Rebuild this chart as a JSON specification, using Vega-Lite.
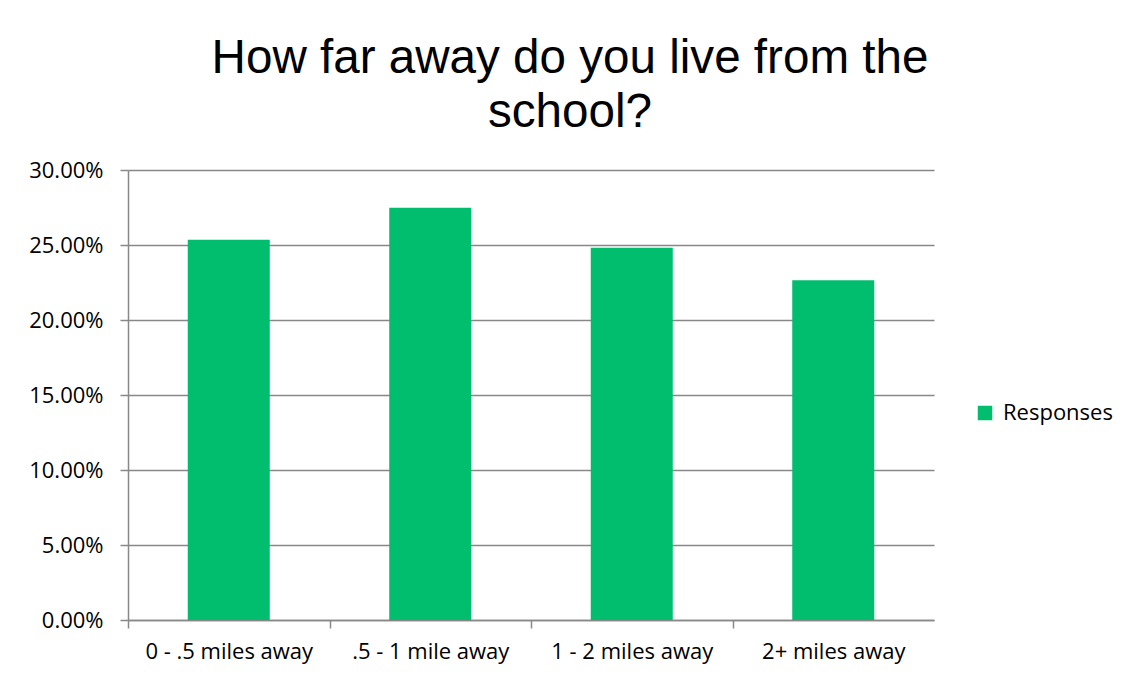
{
  "$schema": "https://vega.github.io/schema/vega-lite/v6.json",
  "width": 806,
  "height": 450,
  "autosize": {"type": "none"},
  "padding": {"left": 128, "top": 170, "right": 193, "bottom": 62},
  "background": "white",
  "title": {
    "text": ["How far away do you live from the", "school?"],
    "font": "Liberation Sans",
    "fontSize": 47.6,
    "fontWeight": "normal",
    "color": "#000000",
    "anchor": "middle",
    "dx": 39,
    "lineHeight": 54,
    "offset": 22
  },
  "data": {
    "values": [
      {"distance": "0 - .5 miles away", "series": "Responses", "pct": 0.2535},
      {"distance": ".5 - 1 mile away", "series": "Responses", "pct": 0.2748},
      {"distance": "1 - 2 miles away", "series": "Responses", "pct": 0.2481},
      {"distance": "2+ miles away", "series": "Responses", "pct": 0.2265}
    ]
  },
  "mark": {"type": "bar", "stroke": null},
  "encoding": {
    "x": {
      "field": "distance",
      "type": "nominal",
      "sort": null,
      "scale": {"paddingInner": 0.593, "paddingOuter": 0.2965},
      "axis": {
        "title": null,
        "labelAngle": 0,
        "labelFont": "Open Sans",
        "labelFontSize": 22,
        "labelColor": "#000000",
        "labelPadding": 13,
        "tickOffset": -100.75,
        "labelOffset": 100.75,
        "tickSize": 8,
        "tickColor": "#888888",
        "tickWidth": 1.5,
        "domainColor": "#888888",
        "domainWidth": 1.5,
        "grid": false
      }
    },
    "y": {
      "field": "pct",
      "type": "quantitative",
      "scale": {"domain": [0, 0.3], "nice": false},
      "axis": {
        "title": null,
        "values": [0, 0.05, 0.1, 0.15, 0.2, 0.25, 0.3],
        "format": ".2%",
        "labelFont": "Open Sans",
        "labelFontSize": 22,
        "labelColor": "#000000",
        "labelPadding": 17,
        "tickSize": 8,
        "tickColor": "#888888",
        "tickWidth": 1.5,
        "domainColor": "#888888",
        "domainWidth": 1.5,
        "grid": true,
        "gridColor": "#888888",
        "gridWidth": 1.4
      }
    },
    "color": {
      "field": "series",
      "type": "nominal",
      "scale": {"range": ["#00BE6E"]},
      "legend": {
        "title": null,
        "orient": "none",
        "legendX": 846,
        "legendY": 232,
        "symbolType": "square",
        "symbolSize": 210,
        "symbolStrokeWidth": 0,
        "labelFont": "Open Sans",
        "labelFontSize": 22,
        "labelColor": "#000000",
        "labelOffset": 7
      }
    }
  },
  "config": {
    "view": {"stroke": null}
  }
}
